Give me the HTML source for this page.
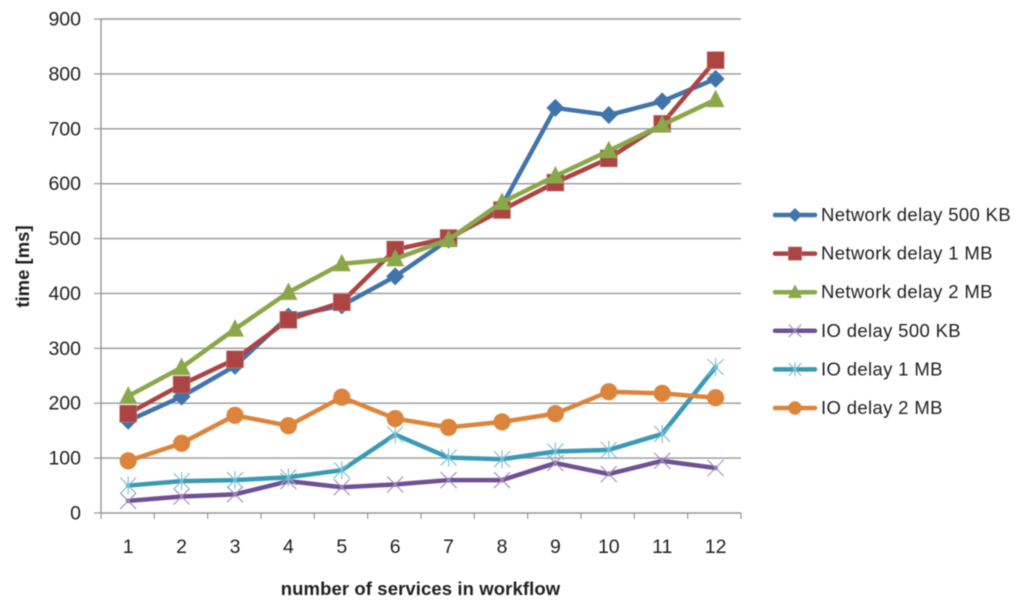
<!DOCTYPE html>
<html>
<head>
<meta charset="utf-8">
<title>Delay chart</title>
<style>
html,body{margin:0;padding:0;background:#fff;}
svg{display:block;filter:blur(0.45px);}
text{font-family:"Liberation Sans",sans-serif;fill:#1f1f1f;}
</style>
</head>
<body>
<svg id="chart" width="1024" height="609" viewBox="0 0 1024 609" xmlns="http://www.w3.org/2000/svg"></svg>
<script>
var categories = [1,2,3,4,5,6,7,8,9,10,11,12];
var yTicks = [0,100,200,300,400,500,600,700,800,900];
var seriesNames = ["Network delay 500 KB","Network delay 1 MB","Network delay 2 MB","IO delay 500 KB","IO delay 1 MB","IO delay 2 MB"];
var network500 = [168,212,268,358,378,431,498,560,738,725,750,791];
var network1 = [181,234,280,352,384,480,501,552,602,646,709,825];
var network2 = [213,265,335,402,454,463,498,566,614,660,707,753];
var io500 = [22,30,34,58,47,52,60,60,91,71,95,82];
var io1 = [50,58,60,65,78,143,101,98,112,115,144,266];
var io2 = [95,127,178,159,211,172,156,166,181,221,218,210];

var seriesValues = [network500,network1,network2,io500,io1,io2];
var lineColors = ["#4174ab","#ab4442","#8aa84a","#6f5095","#3a9ab4","#dd843c"];
var markerKinds = ["diamond","square","triangle","cross","star","circle"];
var NS = "http://www.w3.org/2000/svg";
var svg = document.getElementById("chart");
var left = 101, right = 741, top0 = 19, bottom = 513, yMax = 900;

function xScale(i){ return left + 0.5 + (i + 0.5) * 53.4; }
function yScale(v){ return bottom - v / yMax * (bottom - top0); }
function make(tag, attrs, parent){
  var el = document.createElementNS(NS, tag);
  for (var k in attrs) el.setAttribute(k, attrs[k]);
  (parent || svg).appendChild(el);
  return el;
}
function segment(x1,y1,x2,y2,color,w,parent){
  return make("line",{x1:x1,y1:y1,x2:x2,y2:y2,stroke:color,"stroke-width":w},parent);
}
function drawMarker(kind,x,y,color,parent,scale){
  var s = scale || 1, m;
  if (kind === "diamond") {
    m = make("polygon",{points:(x)+","+(y-9*s)+" "+(x+9*s)+","+y+" "+(x)+","+(y+9*s)+" "+(x-9*s)+","+y,fill:color},parent);
  } else if (kind === "square") {
    m = make("rect",{x:x-8.5*s,y:y-8.5*s,width:17*s,height:17*s,fill:color,stroke:"#c47d7b","stroke-width":0.6},parent);
  } else if (kind === "triangle") {
    m = make("polygon",{points:x+","+(y-10*s)+" "+(x+9*s)+","+(y+7.5*s)+" "+(x-9*s)+","+(y+7.5*s),fill:color},parent);
  } else if (kind === "circle") {
    m = make("circle",{cx:x,cy:y,r:8.6*s,fill:color},parent);
  } else if (kind === "cross") {
    m = make("g",{},parent);
    segment(x-8*s,y-8*s,x+8*s,y+8*s,"#a692c0",1.2,m);
    segment(x-8*s,y+8*s,x+8*s,y-8*s,"#a692c0",1.2,m);
  } else {
    m = make("g",{},parent);
    segment(x-8*s,y-8*s,x+8*s,y+8*s,"#7fc1d4",1.2,m);
    segment(x-8*s,y+8*s,x+8*s,y-8*s,"#7fc1d4",1.2,m);
    segment(x,y-9*s,x,y+9*s,"#7fc1d4",1.2,m);
  }
  return m;
}

var gridGroup = make("g",{});


var yTickGroup = make("g",{});


yTicks.forEach(function(v){
  var y = yScale(v);
  if (v !== 0) segment(left,y,right,y,"#979797",1.4,gridGroup);
  segment(94,y,left,y,"#979797",1.2,yTickGroup);
  var t = make("text",{x:81,y:y+6.5,"text-anchor":"end","font-size":19.5},yTickGroup);
  
  
  t.textContent = v;
});
segment(left,top0,left,bottom,"#979797",1.4,yTickGroup);

var xAxisGroup = make("g",{});


segment(left,bottom,right,bottom,"#979797",1.4,xAxisGroup);
categories.forEach(function(c,i){
  var tx = left + i * (right - left) / categories.length;
  segment(tx,bottom,tx,bottom+6,"#979797",1.2,xAxisGroup);
  var t = make("text",{x:xScale(i),y:553,"text-anchor":"middle","font-size":19.5},xAxisGroup);
  
  
  t.textContent = c;
});
segment(right,bottom,right,bottom+6,"#979797",1.2,xAxisGroup);

seriesValues.forEach(function(vals,si){
  var g = make("g",{});
  
  
  var pts = vals.map(function(v,i){ return xScale(i)+","+yScale(v); }).join(" ");
  make("polyline",{points:pts,fill:"none",stroke:lineColors[si],"stroke-width":4.5,"stroke-linejoin":"round","stroke-linecap":"round"},g);
  vals.forEach(function(v,i){
    var m = drawMarker(markerKinds[si],xScale(i),yScale(v),lineColors[si],g);
    
    
  });
});

var legend = make("g",{});


seriesNames.forEach(function(name,i){
  var y = 215 + i * 38.6;
  var entry = make("g",{},legend);
  
  
  make("line",{x1:775,y1:y,x2:815,y2:y,stroke:lineColors[i],"stroke-width":4.5,"stroke-linecap":"round"},entry);
  drawMarker(markerKinds[i],795,y,lineColors[i],entry,0.78);
  var t = make("text",{x:821,y:y+6,"font-size":18.5,"letter-spacing":"0.35"},entry);
  
  
  t.textContent = name;
});
</script>
<script>
(function(){
  var NS = "http://www.w3.org/2000/svg";
  var s = document.getElementById("chart");
  var xt = document.createElementNS(NS,"text");
  xt.setAttribute("x","420.5");
  xt.setAttribute("y","595");
  xt.setAttribute("text-anchor","middle");
  xt.setAttribute("font-size","18.5");
  xt.setAttribute("font-weight","bold");
  xt.setAttribute("letter-spacing","0.1");
  
  
  xt.textContent = "number of services in workflow";
  s.appendChild(xt);
  var yt = document.createElementNS(NS,"text");
  yt.setAttribute("transform","translate(29,266.5) rotate(-90)");
  yt.setAttribute("text-anchor","middle");
  yt.setAttribute("font-size","18.5");
  yt.setAttribute("font-weight","bold");
  
  
  yt.textContent = "time [ms]";
  s.appendChild(yt);
})();
</script>
</body>
</html>
